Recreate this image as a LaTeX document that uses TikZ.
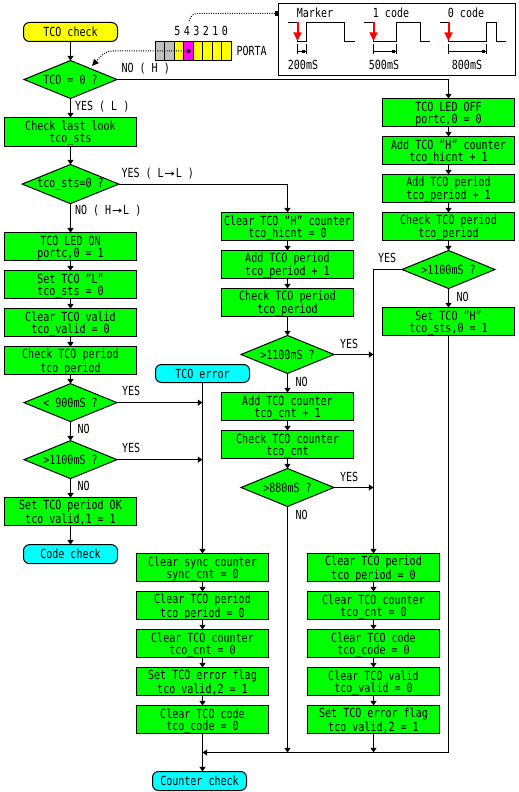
\documentclass[tikz,border=0pt]{standalone}
\usepackage{fontspec}
\usetikzlibrary{arrows.meta,calc,positioning,shapes.geometric}
\setmainfont[FakeStretch=0.8]{DejaVu Sans Mono}
\definecolor{boxgreen}{RGB}{0,255,0}
\definecolor{cellgray}{RGB}{192,192,192}
\definecolor{termyellow}{RGB}{255,255,0}
\definecolor{termcyan}{RGB}{0,255,255}
\definecolor{cellpink}{RGB}{255,0,255}
\definecolor{markred}{RGB}{255,0,0}

\begin{document}
\begin{tikzpicture}[
  x=0.75pt, y=-0.75pt,
  node distance=7.5pt,
  every node/.style={font=\fontsize{9.4}{9}\selectfont, outer sep=0pt},
  procbox/.style={
    draw=black,
    line width=0.75pt,
    fill=boxgreen,
    align=center,
    minimum width=99pt,
    minimum height=21pt,
    text depth=0pt,
    inner sep=0pt
  },
  test/.style={
    draw=black,
    line width=0.75pt,
    fill=boxgreen,
    diamond,
    aspect=2.47,
    minimum width=69.75pt,
    minimum height=28.5pt,
    inner sep=0pt
  },
  terminal/.style={
    draw=black,
    line width=0.75pt,
    rounded corners=4.5pt,
    minimum width=70.5pt,
    minimum height=14.25pt,
    inner sep=0pt,
    fill=#1
  },
  cell/.style={
    draw=black,
    line width=0.75pt,
    minimum width=7.125pt,
    minimum height=14.25pt,
    inner sep=0pt,
    fill=#1
  },
  tag/.style={anchor=west, inner sep=0pt},
  arrow/.style={-{Triangle[length=3.5pt,width=4.5pt]}, line width=0.75pt, draw=black},
  plain/.style={line width=0.75pt, draw=black},
  dotline/.style={densely dotted, line width=0.75pt, draw=black},
  redarrow/.style={-{Triangle[length=6.5pt,width=6pt]}, line width=1.5pt, draw=markred}
]
\useasboundingbox (0,0) rectangle (518,792);

% left column
\node[terminal=termyellow] (start) at (70.5,32) {TCO check};
\node[test, below=14.25pt of start] (dzero) {TCO = 0 ?};
\node[procbox, minimum height=21.75pt, below=14.25pt of dzero] (lastlook) {Check last look\\tco\_sts};
\node[test, below=13.5pt of lastlook] (dsts) {tco\_sts=0 ?};
\node[procbox, below=21.75pt of dsts] (ledon) {TCO LED ON\\portc,0 = 1};
\node[procbox, below=of ledon] (setl) {Set TCO "L"\\tco\_sts = 0};
\node[procbox, below=of setl] (clrvalid) {Clear TCO valid\\tco\_valid = 0};
\node[procbox, below=of clrvalid] (chkper) {Check TCO period\\tco\_period};
\node[test, below=6.75pt of chkper] (dlow) {< 900mS ?};
\node[test, below=14.25pt of dlow] (dhigh) {>1100mS ?};
\node[procbox, below=14.25pt of dhigh] (setok) {Set TCO period OK\\tco\_valid,1 = 1};
\node[terminal=termcyan, below=14.25pt of setok] (codechk) {Code check};

% middle column
\node[procbox] (clrhi) at (287.5,226.5) {Clear TCO "H" counter\\tco\_hicnt = 0};
\node[procbox, below=of clrhi] (addper) {Add TCO period\\tco\_period + 1};
\node[procbox, below=of addper] (chkperb) {Check TCO period\\tco\_period};
\node[test, below=14.25pt of chkperb] (dlimb) {>1100mS ?};
\node[procbox, below=14.25pt of dlimb] (addcnt) {Add TCO counter\\tco\_cnt + 1};
\node[procbox, below=of addcnt] (chkcnt) {Check TCO counter\\tco\_cnt};
\node[test, below=of chkcnt] (dcnt) {>880mS ?};

% right column
\node[procbox] (ledoff) at (448.5,112.5) {TCO LED OFF\\portc,0 = 0};
\node[procbox, below=of ledoff] (addhi) {Add TCO "H" counter\\tco\_hicnt + 1};
\node[procbox, below=of addhi] (addperc) {Add TCO period\\tco\_period + 1};
\node[procbox, below=of addperc] (chkperc) {Check TCO period\\tco\_period};
\node[test, below=of chkperc] (dlimc) {>1100mS ?};
\node[procbox, below=14.25pt of dlimc] (seth) {Set TCO "H"\\tco\_sts,0 = 1};

% error column
\node[terminal=termcyan, minimum height=13.5pt] (tcoerr) at (202.5,373.5) {TCO error};
\node[procbox] (clrsync) at (202.5,567.5) {Clear sync counter\\sync\_cnt = 0};
\node[procbox, below=of clrsync] (clrpera) {Clear TCO period\\tco\_period = 0};
\node[procbox, below=of clrpera] (clrcnta) {Clear TCO counter\\tco\_cnt = 0};
\node[procbox, below=of clrcnta] (errflaga) {Set TCO error flag\\tco\_valid,2 = 1};
\node[procbox, below=of errflaga] (clrcodea) {Clear TCO code\\tco\_code = 0};

% reset column
\node[procbox] (clrperb) at (373.5,567.5) {Clear TCO period\\tco\_period = 0};
\node[procbox, below=of clrperb] (clrcntb) {Clear TCO counter\\tco\_cnt = 0};
\node[procbox, below=of clrcntb] (clrcodeb) {Clear TCO code\\tco\_code = 0};
\node[procbox, below=of clrcodeb] (clrvalidb) {Clear TCO valid\\tco\_valid = 0};
\node[procbox, below=of clrvalidb] (errflagb) {Set TCO error flag\\tco\_valid,2 = 1};

\node[terminal=termcyan] (cntchk) at (199.5,781) {Counter check};
\coordinate (merge) at (202.5,752.5);

% branch labels
\node[tag] (tagnoh) at (121.5,68.5) {NO ( H )};
\node[tag] (tagyesl) at (75,106.5) {YES ( L )};
\node[tag] (tagyesll) at (121.5,173.5) {YES ( L\makebox[9pt]{\scalebox{1.7}[1]{→}}L )};
\node[tag] (tagnohl) at (75,210.5) {NO ( H\makebox[9pt]{\scalebox{1.7}[1]{→}}L )};
\node[tag] (tagyesa) at (122,390.5) {YES};
\node[tag] (tagnoa) at (77.5,428.5) {NO};
\node[tag] (tagyesb) at (122,447.5) {YES};
\node[tag] (tagnob) at (77.5,485.5) {NO};
\node[tag] (tagyesc) at (340,343.5) {YES};
\node[tag] (tagnoc) at (295.5,381.5) {NO};
\node[tag] (tagyesd) at (340,476.5) {YES};
\node[tag] (tagnod) at (295.5,514.5) {NO};
\node[tag] (tagyese) at (378,258) {YES};
\node[tag] (tagnoe) at (456.5,296.5) {NO};

% straight runs
\foreach \from/\to in {start/dzero,dzero/lastlook,lastlook/dsts,dsts/ledon,ledon/setl,setl/clrvalid,
  clrvalid/chkper,chkper/dlow,dlow/dhigh,dhigh/setok,setok/codechk,
  clrhi/addper,addper/chkperb,chkperb/dlimb,dlimb/addcnt,addcnt/chkcnt,chkcnt/dcnt,
  ledoff/addhi,addhi/addperc,addperc/chkperc,chkperc/dlimc,dlimc/seth,
  tcoerr/clrsync,clrsync/clrpera,clrpera/clrcnta,clrcnta/errflaga,errflaga/clrcodea,
  clrperb/clrcntb,clrcntb/clrcodeb,clrcodeb/clrvalidb,clrvalidb/errflagb}
  \draw[arrow] (\from) -- (\to);

% branches
\draw[arrow] (dzero.east) -| (ledoff.north);
\draw[arrow] (dsts.east) -| (clrhi.north);
\draw[arrow] (dlimc.west) -| (clrperb.north);
\draw[arrow] (dlow.east) -- (dlow.east -| clrsync.north);
\draw[arrow] (dhigh.east) -- (dhigh.east -| clrsync.north);
\draw[arrow] (dlimb.east) -- (dlimb.east -| clrperb.north);
\draw[arrow] (dcnt.east) -- (dcnt.east -| clrperb.north);
\draw[arrow] (dcnt.south) -- (dcnt.south |- merge);
\draw[arrow] (errflagb.south) -- (errflagb.south |- merge);
\draw[arrow] (seth.south) |- (merge);
\draw[arrow] (clrcodea.south) -- (clrcodea.south |- cntchk.north);

% port register
\foreach \cellno/\cellfill in {0/cellgray,1/cellgray,2/termyellow,3/cellpink,4/termyellow,5/termyellow,6/termyellow,7/termyellow}
  \node[cell=\cellfill] (cell\cellno) at ({160+9.5*\cellno},51) {};
\foreach \cellno/\bitno in {2/5,3/4,4/3,5/2,6/1,7/0}
  \node[inner sep=0pt] (bit\bitno) at ($(cell\cellno.center)+(-1.5,-20)$) {\bitno};
\node[tag, right=4pt of cell7] (porta) {PORTA};
\fill (cell3.center) circle (2.2);
\draw[dotline, -{Triangle[length=5pt,width=4.5pt]}] (cell3.center) -- (113,51) .. controls (104,51) and (100,57) .. (92,66);

% timing panel
\node[draw=black, line width=0.75pt, minimum width=177.75pt, minimum height=54pt, inner sep=0pt] (panel) at (397,39.5) {};
\draw[dotline, -{Square[length=3pt,width=3.5pt]}] (189,21) .. controls (191,15) and (194,13.5) .. (198,13.5) -- (panel.west |- 0,13.5);
\node[inner sep=0pt] (mkname) at (315,13) {Marker};
\node[inner sep=0pt] (onename) at (391,13) {1 code};
\node[inner sep=0pt] (zeroname) at (466,13) {0 code};
\node[inner sep=0pt] (mktime) at (303,65) {200mS};
\node[inner sep=0pt] (onetime) at (384,65) {500mS};
\node[inner sep=0pt] (zerotime) at (467,65) {800mS};
\foreach \wbeg/\wfall/\wrise/\wdrop/\wend in {287.5/297.5/306.5/344.5/354.5,363.5/373.5/396.5/420.5/429.5,439.5/448.5/486.5/496.5/505.5}{
  \draw[plain] (\wbeg,22.5) -- (\wfall,22.5) -- (\wfall,41.5) -- (\wrise,41.5) -- (\wrise,22.5)
    -- (\wdrop,22.5) -- (\wdrop,41.5) -- (\wend,41.5);
  \draw[redarrow] (\wfall,22) -- (\wfall,41);
  \draw[plain] (\wfall,44) -- (\wfall,54.5);
  \draw[plain] (\wrise,44) -- (\wrise,54.5);
  \draw[plain] (\wfall,51.5) -- (\wrise,51.5);
  \fill ($(\wrise,51.5)+(-5,-1.5)$) rectangle ++(3,3);
}
\end{tikzpicture}
\end{document}
